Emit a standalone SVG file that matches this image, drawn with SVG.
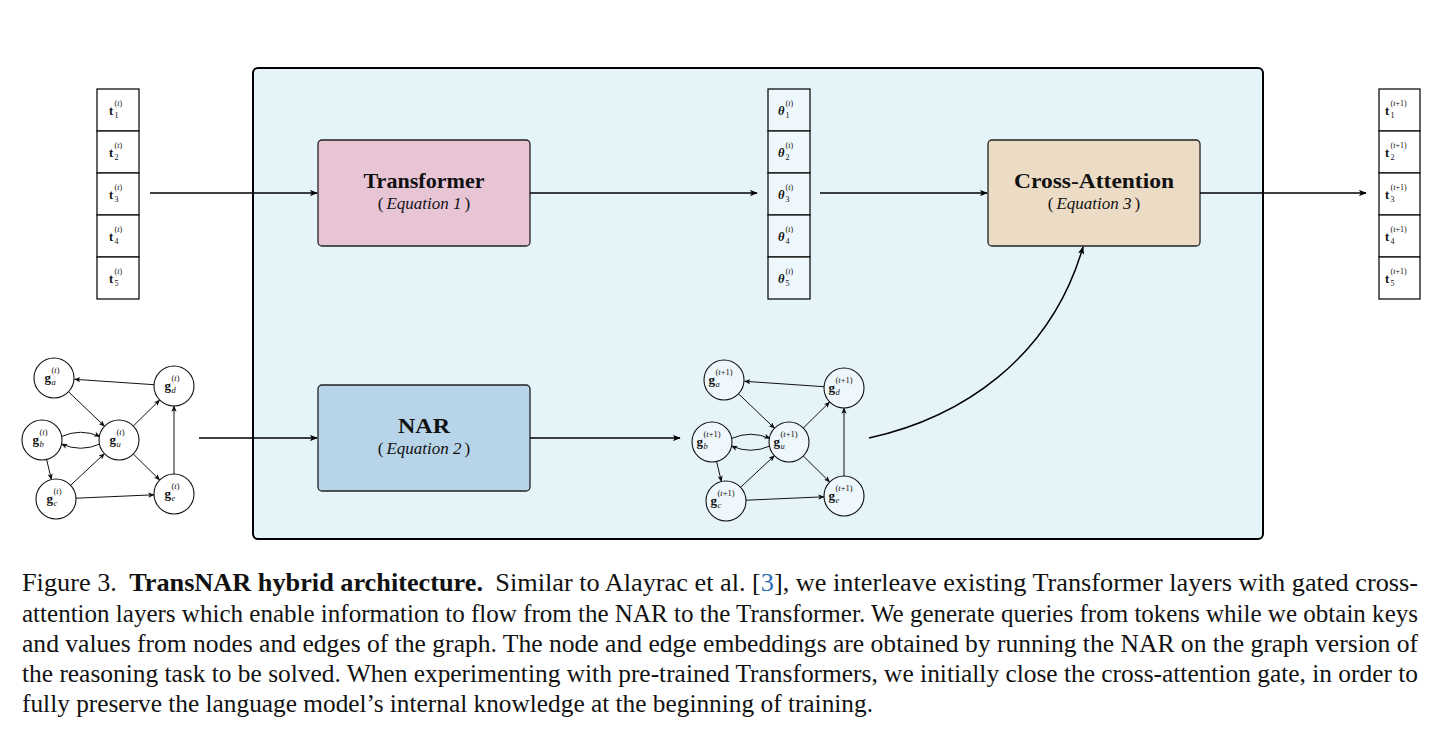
<svg xmlns="http://www.w3.org/2000/svg" width="1456" height="752" viewBox="0 0 1456 752">
<defs>
<style>
.cell{fill:#ffffff;stroke:#111;stroke-width:1.3}
.tcell{fill:#eef8fc;stroke:#111;stroke-width:1.3}
.box{stroke:#222;stroke-width:1.3}
.title{font-family:"Liberation Serif",serif;font-weight:bold;font-size:22px;fill:#111;text-anchor:middle}
.eq{font-family:"Liberation Serif",serif;font-size:17px;fill:#111;text-anchor:middle}
.main{fill:none;stroke:#000;stroke-width:1.5}
.edge{fill:none;stroke:#111;stroke-width:1}
.node{fill:#ffffff;stroke:#111;stroke-width:1.1}
.node2{fill:#eef8fc;stroke:#111;stroke-width:1.1}
.lb{font-family:"Liberation Serif",serif;font-weight:bold;font-size:12.5px;fill:#111}
.sm{font-family:"Liberation Serif",serif;font-size:8px;fill:#111}
.gl{font-family:"Liberation Serif",serif;font-weight:bold;font-size:13px;fill:#111}
.gs{font-family:"Liberation Serif",serif;font-size:8.5px;fill:#111}
.cap{font-family:"Liberation Serif",serif;font-size:25.5px;fill:#111}
</style>
<marker id="arr" viewBox="0 0 10 8" refX="9" refY="4" markerWidth="8" markerHeight="6.4" markerUnits="userSpaceOnUse" orient="auto">
<path d="M0,0 L10,4 L0,8 L2.5,4 z" fill="#000"/>
</marker>
<marker id="arrs" viewBox="0 0 10 8" refX="9" refY="4" markerWidth="6.5" markerHeight="5.2" markerUnits="userSpaceOnUse" orient="auto">
<path d="M0,0 L10,4 L0,8 L2.5,4 z" fill="#111"/>
</marker>
</defs>

<rect x="0" y="0" width="1456" height="752" fill="#ffffff"/>

<g id="outer">
<rect x="253" y="68" width="1010" height="471" rx="5" fill="#e5f4f9" stroke="#000" stroke-width="2"/>
</g>

<g id="tokens-in">
<rect class="cell" x="97" y="89" width="42" height="42"/>
<rect class="cell" x="97" y="131" width="42" height="42"/>
<rect class="cell" x="97" y="173" width="42" height="42"/>
<rect class="cell" x="97" y="215" width="42" height="42"/>
<rect class="cell" x="97" y="257" width="42" height="42"/>
<text class="lb" x="109" y="115">t</text><text class="sm" x="114.5" y="118">1</text><text class="sm" x="114.5" y="106">(<tspan font-style="italic">t</tspan>)</text>
<text class="lb" x="109" y="157">t</text><text class="sm" x="114.5" y="160">2</text><text class="sm" x="114.5" y="148">(<tspan font-style="italic">t</tspan>)</text>
<text class="lb" x="109" y="199">t</text><text class="sm" x="114.5" y="202">3</text><text class="sm" x="114.5" y="190">(<tspan font-style="italic">t</tspan>)</text>
<text class="lb" x="109" y="241">t</text><text class="sm" x="114.5" y="244">4</text><text class="sm" x="114.5" y="232">(<tspan font-style="italic">t</tspan>)</text>
<text class="lb" x="109" y="283">t</text><text class="sm" x="114.5" y="286">5</text><text class="sm" x="114.5" y="274">(<tspan font-style="italic">t</tspan>)</text>
</g>

<g id="theta">
<rect class="tcell" x="768" y="89" width="42" height="42"/>
<rect class="tcell" x="768" y="131" width="42" height="42"/>
<rect class="tcell" x="768" y="173" width="42" height="42"/>
<rect class="tcell" x="768" y="215" width="42" height="42"/>
<rect class="tcell" x="768" y="257" width="42" height="42"/>
<text class="lb" font-style="italic" x="778" y="115">θ</text><text class="sm" x="785.5" y="118">1</text><text class="sm" x="785.5" y="106">(<tspan font-style="italic">t</tspan>)</text>
<text class="lb" font-style="italic" x="778" y="157">θ</text><text class="sm" x="785.5" y="160">2</text><text class="sm" x="785.5" y="148">(<tspan font-style="italic">t</tspan>)</text>
<text class="lb" font-style="italic" x="778" y="199">θ</text><text class="sm" x="785.5" y="202">3</text><text class="sm" x="785.5" y="190">(<tspan font-style="italic">t</tspan>)</text>
<text class="lb" font-style="italic" x="778" y="241">θ</text><text class="sm" x="785.5" y="244">4</text><text class="sm" x="785.5" y="232">(<tspan font-style="italic">t</tspan>)</text>
<text class="lb" font-style="italic" x="778" y="283">θ</text><text class="sm" x="785.5" y="286">5</text><text class="sm" x="785.5" y="274">(<tspan font-style="italic">t</tspan>)</text>
</g>

<g id="tokens-out">
<rect class="cell" x="1379" y="89" width="41" height="42"/>
<rect class="cell" x="1379" y="131" width="41" height="42"/>
<rect class="cell" x="1379" y="173" width="41" height="42"/>
<rect class="cell" x="1379" y="215" width="41" height="42"/>
<rect class="cell" x="1379" y="257" width="41" height="42"/>
<text class="lb" x="1385" y="115">t</text><text class="sm" x="1390.5" y="118">1</text><text class="sm" x="1390.5" y="106">(<tspan font-style="italic">t</tspan>+1)</text>
<text class="lb" x="1385" y="157">t</text><text class="sm" x="1390.5" y="160">2</text><text class="sm" x="1390.5" y="148">(<tspan font-style="italic">t</tspan>+1)</text>
<text class="lb" x="1385" y="199">t</text><text class="sm" x="1390.5" y="202">3</text><text class="sm" x="1390.5" y="190">(<tspan font-style="italic">t</tspan>+1)</text>
<text class="lb" x="1385" y="241">t</text><text class="sm" x="1390.5" y="244">4</text><text class="sm" x="1390.5" y="232">(<tspan font-style="italic">t</tspan>+1)</text>
<text class="lb" x="1385" y="283">t</text><text class="sm" x="1390.5" y="286">5</text><text class="sm" x="1390.5" y="274">(<tspan font-style="italic">t</tspan>+1)</text>
</g>

<g id="transformer">
<rect class="box" x="318" y="140" width="212" height="106" rx="4" fill="#e7c5d5"/>
<text class="title" x="424" y="188" textLength="121" lengthAdjust="spacingAndGlyphs">Transformer</text>
<text class="eq" x="424" y="209">(<tspan font-style="italic" dx="3">Equation 1</tspan><tspan dx="3">)</tspan></text>
</g>

<g id="cross-attention">
<rect class="box" x="988" y="140" width="212" height="106" rx="4" fill="#ecdcc6"/>
<text class="title" x="1094" y="188" textLength="160" lengthAdjust="spacingAndGlyphs">Cross-Attention</text>
<text class="eq" x="1094" y="209">(<tspan font-style="italic" dx="3">Equation 3</tspan><tspan dx="3">)</tspan></text>
</g>

<g id="nar">
<rect class="box" x="318" y="385" width="212" height="106" rx="4" fill="#b8d4e9"/>
<text class="title" x="424" y="433" textLength="52" lengthAdjust="spacingAndGlyphs">NAR</text>
<text class="eq" x="424" y="454">(<tspan font-style="italic" dx="3">Equation 2</tspan><tspan dx="3">)</tspan></text>
</g>

<g id="graph-in">
<g class="edges">
<path class="edge" d="M154,384.7 L74.5,379.3" marker-end="url(#arrs)"/>
<path class="edge" d="M68.5,391.8 L104.5,426.2" marker-end="url(#arrs)"/>
<path class="edge" d="M133.3,426 L159.7,400" marker-end="url(#arrs)"/>
<path class="edge" d="M61.5,436.5 Q80.5,428 100,436.5" marker-end="url(#arrs)"/>
<path class="edge" d="M100,444 Q80.5,452.5 61.5,444" marker-end="url(#arrs)"/>
<path class="edge" d="M46.6,459.5 L51.4,479.5" marker-end="url(#arrs)"/>
<path class="edge" d="M70.6,485.3 L104.4,453.7" marker-end="url(#arrs)"/>
<path class="edge" d="M133.3,454 L159.7,480" marker-end="url(#arrs)"/>
<path class="edge" d="M76,498.2 L154,494.8" marker-end="url(#arrs)"/>
<path class="edge" d="M174,474 L174,406" marker-end="url(#arrs)"/>
</g>
<circle class="node" cx="54" cy="378" r="20"/>
<circle class="node" cx="174" cy="386" r="20"/>
<circle class="node" cx="42" cy="440" r="20"/>
<circle class="node" cx="119" cy="440" r="20"/>
<circle class="node" cx="56" cy="499" r="20"/>
<circle class="node" cx="174" cy="494" r="20"/>
<text class="gl" x="44.5" y="382">g</text><text class="gs" x="51.5" y="385" font-style="italic">a</text><text class="gs" x="51.5" y="373">(<tspan font-style="italic">t</tspan>)</text>
<text class="gl" x="164.5" y="390">g</text><text class="gs" x="171.5" y="393" font-style="italic">d</text><text class="gs" x="171.5" y="381">(<tspan font-style="italic">t</tspan>)</text>
<text class="gl" x="32.5" y="444">g</text><text class="gs" x="39.5" y="447" font-style="italic">b</text><text class="gs" x="39.5" y="435">(<tspan font-style="italic">t</tspan>)</text>
<text class="gl" x="109.5" y="444">g</text><text class="gs" x="116.5" y="447" font-style="italic">u</text><text class="gs" x="116.5" y="435">(<tspan font-style="italic">t</tspan>)</text>
<text class="gl" x="46.5" y="503">g</text><text class="gs" x="53.5" y="506" font-style="italic">c</text><text class="gs" x="53.5" y="494">(<tspan font-style="italic">t</tspan>)</text>
<text class="gl" x="164.5" y="498">g</text><text class="gs" x="171.5" y="501" font-style="italic">e</text><text class="gs" x="171.5" y="489">(<tspan font-style="italic">t</tspan>)</text>
</g>

<g id="graph-out" transform="translate(670,2)">
<g class="edges">
<path class="edge" d="M154,384.7 L74.5,379.3" marker-end="url(#arrs)"/>
<path class="edge" d="M68.5,391.8 L104.5,426.2" marker-end="url(#arrs)"/>
<path class="edge" d="M133.3,426 L159.7,400" marker-end="url(#arrs)"/>
<path class="edge" d="M61.5,436.5 Q80.5,428 100,436.5" marker-end="url(#arrs)"/>
<path class="edge" d="M100,444 Q80.5,452.5 61.5,444" marker-end="url(#arrs)"/>
<path class="edge" d="M46.6,459.5 L51.4,479.5" marker-end="url(#arrs)"/>
<path class="edge" d="M70.6,485.3 L104.4,453.7" marker-end="url(#arrs)"/>
<path class="edge" d="M133.3,454 L159.7,480" marker-end="url(#arrs)"/>
<path class="edge" d="M76,498.2 L154,494.8" marker-end="url(#arrs)"/>
<path class="edge" d="M174,474 L174,406" marker-end="url(#arrs)"/>
</g>
<circle class="node2" cx="54" cy="378" r="20"/>
<circle class="node2" cx="174" cy="386" r="20"/>
<circle class="node2" cx="42" cy="440" r="20"/>
<circle class="node2" cx="119" cy="440" r="20"/>
<circle class="node2" cx="56" cy="499" r="20"/>
<circle class="node2" cx="174" cy="494" r="20"/>
<text class="gl" x="38.5" y="382">g</text><text class="gs" x="45.5" y="385" font-style="italic">a</text><text class="gs" x="45.5" y="373">(<tspan font-style="italic">t</tspan>+1)</text>
<text class="gl" x="158.5" y="390">g</text><text class="gs" x="165.5" y="393" font-style="italic">d</text><text class="gs" x="165.5" y="381">(<tspan font-style="italic">t</tspan>+1)</text>
<text class="gl" x="26.5" y="444">g</text><text class="gs" x="33.5" y="447" font-style="italic">b</text><text class="gs" x="33.5" y="435">(<tspan font-style="italic">t</tspan>+1)</text>
<text class="gl" x="103.5" y="444">g</text><text class="gs" x="110.5" y="447" font-style="italic">u</text><text class="gs" x="110.5" y="435">(<tspan font-style="italic">t</tspan>+1)</text>
<text class="gl" x="40.5" y="503">g</text><text class="gs" x="47.5" y="506" font-style="italic">c</text><text class="gs" x="47.5" y="494">(<tspan font-style="italic">t</tspan>+1)</text>
<text class="gl" x="158.5" y="498">g</text><text class="gs" x="165.5" y="501" font-style="italic">e</text><text class="gs" x="165.5" y="489">(<tspan font-style="italic">t</tspan>+1)</text>
</g>

<g id="connectors">
<path class="main" d="M150,193 L317,193" marker-end="url(#arr)"/>
<path class="main" d="M530,193 L757,193" marker-end="url(#arr)"/>
<path class="main" d="M820,193 L987,193" marker-end="url(#arr)"/>
<path class="main" d="M1200,193 L1366,193" marker-end="url(#arr)"/>
<path class="main" d="M199,438 L317,438" marker-end="url(#arr)"/>
<path class="main" d="M530,438 L680,438" marker-end="url(#arr)"/>
<path class="main" d="M869,438 C960,418 1050,360 1083,247" marker-end="url(#arr)"/>
</g>

<g id="caption">
<text class="cap" x="22" y="591" textLength="1396" lengthAdjust="spacingAndGlyphs">Figure 3.<tspan font-weight="bold" dx="12">TransNAR hybrid architecture.</tspan><tspan dx="12">Similar to Alayrac et al. [</tspan><tspan fill="#2a6db5">3</tspan>], we interleave existing Transformer layers with gated cross-</text>
<text class="cap" x="22" y="622" textLength="1396" lengthAdjust="spacingAndGlyphs">attention layers which enable information to flow from the NAR to the Transformer. We generate queries from tokens while we obtain keys</text>
<text class="cap" x="22" y="652" textLength="1396" lengthAdjust="spacingAndGlyphs">and values from nodes and edges of the graph. The node and edge embeddings are obtained by running the NAR on the graph version of</text>
<text class="cap" x="22" y="682" textLength="1396" lengthAdjust="spacingAndGlyphs">the reasoning task to be solved. When experimenting with pre-trained Transformers, we initially close the cross-attention gate, in order to</text>
<text class="cap" x="22" y="712" textLength="851" lengthAdjust="spacingAndGlyphs">fully preserve the language model’s internal knowledge at the beginning of training.</text>
</g>
</svg>
